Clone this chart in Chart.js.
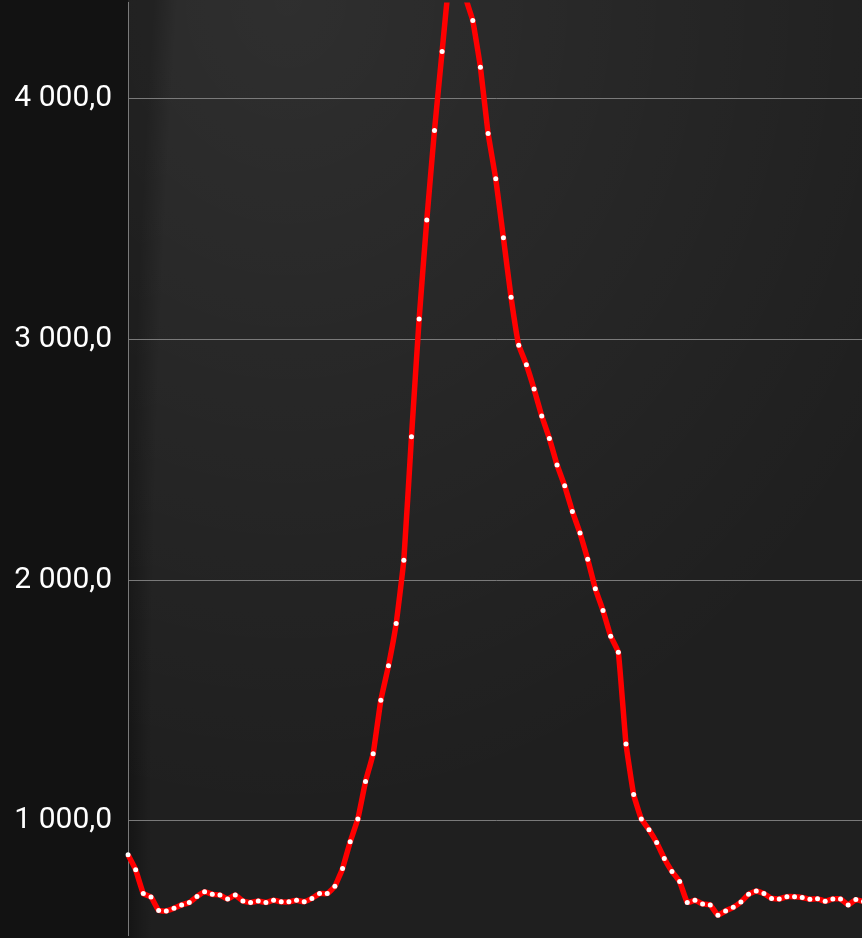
<!DOCTYPE html>
<html>
<head>
<meta charset="utf-8">
<script src="https://cdn.jsdelivr.net/npm/chart.js@4/dist/chart.umd.min.js"></script>
<style>
    html, body {
        margin: 0;
        padding: 0;
        width: 862px;
        height: 938px;
        overflow: hidden;
        background: #121212;
    }
    #backdrop {
        position: absolute;
        left: 128px;
        top: 0;
        width: 734px;
        height: 938px;
        background:
            radial-gradient(ellipse 700px 820px at 160px 0px, rgba(255,255,255,0.07), rgba(255,255,255,0) 100%),
            radial-gradient(ellipse 572px 2709px at 572px 800px, rgba(255,255,255,0.045) 96%, rgba(255,255,255,0) 100%),
            #151515;
    }
    #wrap {
        position: absolute;
        left: 0;
        top: 0;
        width: 866px;
        height: 938px;
    }
</style>
</head>
<body>
<div id="backdrop"></div>
<div id="wrap"><canvas id="curveChart"></canvas></div>
<script>
document.addEventListener('DOMContentLoaded', () => {
    // values, one per point
    const values = [
        859, 797, 698, 684, 628, 626, 637, 651, 661, 686,
        706, 695, 692, 676, 692, 667, 661, 667, 661, 670,
        664, 664, 670, 664, 678, 698, 698, 728, 802, 913,
        1008, 1163, 1279, 1501, 1644, 1819, 2082, 2595, 3084, 3495,
        3866, 4195, 4520, 4700, 4425, 4323, 4129, 3854, 3666, 3421,
        3174, 2975, 2894, 2793, 2681, 2588, 2478, 2391, 2285, 2195,
        2086, 1964, 1873, 1767, 1700, 1319, 1109, 1008, 963, 910,
        844, 790, 748, 661, 670, 655, 651, 608, 626, 641,
        663, 695, 709, 698, 678, 676, 685, 685, 682, 674,
        677, 666, 676, 676, 651, 673, 665
    ];
    const categories = values.map((v, i) => String(i + 1));
    const tickValues = [1000, 2000, 3000, 4000];
    const yMin = 524;
    const yMax = 4398;

    function formatTick(v) {
        const parts = v.toFixed(1).split('.');
        const whole = parts[0].replace(/\B(?=(\d{3})+(?!\d))/g, ' ');
        return whole + ',' + parts[1];
    }

    const ctx = document.getElementById('curveChart').getContext('2d');
    new Chart(ctx, {
        type: 'line',
        data: {
            labels: categories,
            datasets: [{
                data: values,
                borderColor: '#ff0000',
                borderWidth: 5.5,
                tension: 0.1,
                pointRadius: 2.5,
                pointBackgroundColor: '#ffffff',
                pointBorderWidth: 0,
                pointHoverRadius: 2.5,
            }],
        },
        options: {
            responsive: true,
            maintainAspectRatio: false,
            animation: false,
            layout: { padding: 0 },
            plugins: {
                legend: { display: false },
                tooltip: { enabled: false },
            },
            scales: {
                x: {
                    display: false,
                },
                y: {
                    min: yMin,
                    max: yMax,
                    bounds: 'data',
                    afterBuildTicks: (axis) => {
                        axis.ticks = tickValues.map(v => ({ value: v }));
                    },
                    afterFit: (axis) => {
                        axis.width = 128;
                        axis.paddingTop = 0;
                        axis.paddingBottom = 0;
                    },
                    grid: {
                        color: '#7a7a7a',
                        lineWidth: 1,
                        drawTicks: false,
                    },
                    border: {
                        color: '#7a7a7a',
                        width: 1,
                    },
                    ticks: {
                        color: '#ffffff',
                        padding: 16,
                        font: { family: 'Roboto', size: 30 },
                        callback: (value) => formatTick(value),
                    },
                },
            },
        },
    });
});
</script>
</body>
</html>
